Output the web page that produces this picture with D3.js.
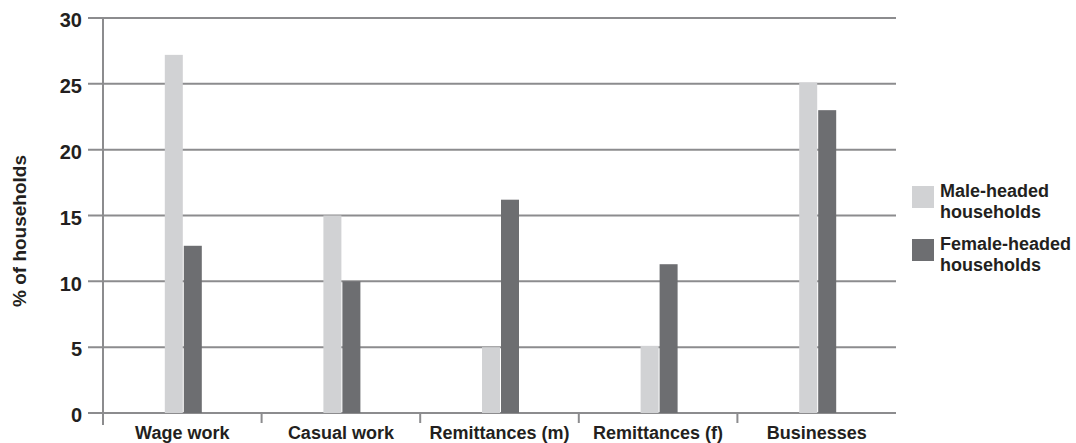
<!DOCTYPE html>
<html>
<head>
<meta charset="utf-8">
<script src="https://cdn.jsdelivr.net/npm/d3@7"></script>
<style>
  body { margin: 0; background: #fff; }
  svg text { font-family: "Liberation Sans", Arial, Helvetica, sans-serif; font-weight: bold; fill: #231f20; }
</style>
</head>
<body>
<script>
var categories = ['Wage work', 'Casual work', 'Remittances (m)', 'Remittances (f)', 'Businesses'];
var seriesNames = ['Male-headed households', 'Female-headed households'];
var maleValues = [27.2, 15.0, 5.0, 5.1, 25.1];
var femaleValues = [12.7, 10.0, 16.2, 11.3, 23.0];
var yTicks = [0, 5, 10, 15, 20, 25, 30];
var legendLines = [['Male-headed', 'households'], ['Female-headed', 'households']];

var width = 1076, height = 443;
var margin = {top: 18, left: 103};
var plotRight = 896, plotBottom = 413;

var svg = d3.select('body').append('svg')
    .attr('width', width)
    .attr('height', height);

var x = d3.scaleBand()
    .domain(categories)
    .range([margin.left, plotRight]);

var y = d3.scaleLinear()
    .domain([0, 30])
    .range([plotBottom, margin.top]);

var colors = d3.scaleOrdinal()
    .domain(seriesNames)
    .range(['#d1d2d4', '#6d6e71']);

var gridColor = '#8c8c8e';

// horizontal grid lines, extending left past the axis as ticks
svg.append('g')
    .selectAll('line')
    .data(yTicks)
    .enter()
    .append('line')
    .attr('x1', margin.left - 15)
    .attr('x2', plotRight)
    .attr('y1', function(d) { return y(d); })
    .attr('y2', function(d) { return y(d); })
    .attr('stroke', gridColor)
    .attr('stroke-width', 2);

// y tick labels
svg.append('g')
    .selectAll('text')
    .data(yTicks)
    .enter()
    .append('text')
    .attr('x', 82)
    .attr('y', function(d) { return y(d) + 2; })
    .attr('dy', '0.36em')
    .attr('text-anchor', 'end')
    .style('font-size', '20px')
    .text(function(d) { return d; });

// vertical axis line
svg.append('line')
    .attr('x1', margin.left).attr('x2', margin.left)
    .attr('y1', margin.top).attr('y2', plotBottom + 12)
    .attr('stroke', gridColor)
    .attr('stroke-width', 2);

// category boundary ticks
var boundaries = categories.map(function(c) { return x(c); }).slice(1);
svg.append('g')
    .selectAll('line')
    .data(boundaries)
    .enter()
    .append('line')
    .attr('x1', function(d) { return d; })
    .attr('x2', function(d) { return d; })
    .attr('y1', plotBottom)
    .attr('y2', plotBottom + 10)
    .attr('stroke', gridColor)
    .attr('stroke-width', 2);

// bars
var barW = 18;
var rows = categories.map(function(c, i) {
    return {cat: c, vals: [maleValues[i], femaleValues[i]]};
});

var groups = svg.append('g')
    .selectAll('g')
    .data(rows)
    .enter()
    .append('g')
    .attr('transform', function(d) {
        return 'translate(' + (x(d.cat) + x.bandwidth() / 2) + ',0)';
    });

groups.selectAll('rect')
    .data(function(d) {
        return d.vals.map(function(v, j) { return {v: v, s: seriesNames[j], j: j}; });
    })
    .enter()
    .append('rect')
    .attr('x', function(d) { return d.j === 0 ? -barW + 0.5 : 1.5; })
    .attr('width', barW)
    .attr('y', function(d) { return y(d.v); })
    .attr('height', function(d) { return plotBottom - y(d.v); })
    .attr('fill', function(d) { return colors(d.s); });

// category labels
svg.append('g')
    .selectAll('text')
    .data(categories)
    .enter()
    .append('text')
    .attr('x', function(d) { return x(d) + x.bandwidth() / 2; })
    .attr('y', 439)
    .attr('text-anchor', 'middle')
    .style('font-size', '18px')
    .text(function(d) { return d; });

// y axis title
svg.append('text')
    .attr('transform', 'translate(26,231) rotate(-90)')
    .attr('text-anchor', 'middle')
    .style('font-size', '19px')
    .text('% of households');

// legend
var legend = svg.append('g')
    .selectAll('g')
    .data(seriesNames)
    .enter()
    .append('g')
    .attr('transform', function(d, i) { return 'translate(912,' + (186 + i * 53) + ')'; });

legend.append('rect')
    .attr('width', 22)
    .attr('height', 22)
    .attr('fill', function(d) { return colors(d); });

legend.append('text')
    .attr('x', 28)
    .attr('y', 11)
    .style('font-size', '18px')
    .selectAll('tspan')
    .data(function(d, i) { return legendLines[i]; })
    .enter()
    .append('tspan')
    .attr('x', 28)
    .attr('dy', function(d, k) { return k === 0 ? '0' : '21'; })
    .text(function(d) { return d; });
</script>
</body>
</html>
